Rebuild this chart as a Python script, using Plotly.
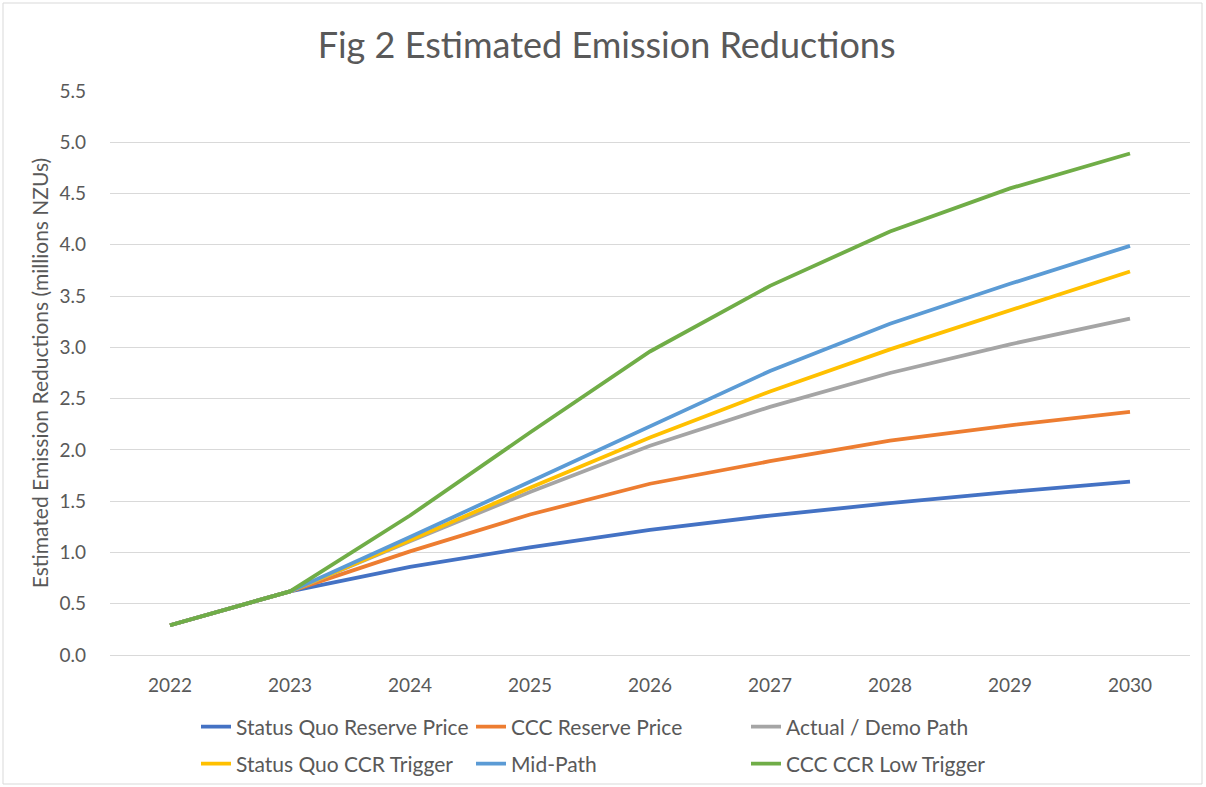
import plotly.graph_objects as go

years = ["2022", "2023", "2024", "2025", "2026", "2027", "2028", "2029", "2030"]

status_quo_reserve = [0.29, 0.62, 0.86, 1.05, 1.22, 1.36, 1.48, 1.59, 1.69]
ccc_reserve = [0.29, 0.62, 1.01, 1.37, 1.67, 1.89, 2.09, 2.24, 2.37]
actual_demo = [0.29, 0.62, 1.11, 1.59, 2.04, 2.42, 2.75, 3.03, 3.28]
status_quo_ccr = [0.29, 0.62, 1.12, 1.63, 2.12, 2.57, 2.98, 3.36, 3.74]
mid_path = [0.29, 0.62, 1.15, 1.69, 2.24, 2.77, 3.23, 3.62, 3.99]
ccc_ccr_low = [0.29, 0.62, 1.36, 2.17, 2.96, 3.60, 4.13, 4.55, 4.89]

series_names = ["Status Quo Reserve Price", "CCC Reserve Price", "Actual / Demo Path",
                "Status Quo CCR Trigger", "Mid-Path", "CCC CCR Low Trigger"]
series_values = [status_quo_reserve, ccc_reserve, actual_demo,
                 status_quo_ccr, mid_path, ccc_ccr_low]
series_colors = ["#4472C4", "#ED7D31", "#A5A5A5", "#FFC000", "#5B9BD5", "#70AD47"]

W, H = 1206, 787
ml, mr, mt, mb = 110, 16, 91, 132
pw, ph = W - ml - mr, H - mt - mb

# legend grid (pixel positions of each legend entry: line start, row centre)
legend_cols = [201, 476, 751]
legend_rows = [727, 764]

fig = go.Figure()
layout_legends = {}
for i, (name, vals, color) in enumerate(zip(series_names, series_values, series_colors)):
    key = "legend" if i == 0 else f"legend{i + 1}"
    fig.add_trace(go.Scatter(
        x=years, y=vals, mode="lines", name=name,
        line=dict(color=color, width=3.8),
        legend=key,
    ))
    col, row = i % 3, i // 3
    layout_legends[key] = dict(
        orientation="h",
        xanchor="left", yanchor="middle",
        x=(legend_cols[col] - 5 - ml) / pw,
        y=-(legend_rows[row] - mt - ph) / ph,
        font=dict(family="Lato", size=21, color="#595959"),
        bgcolor="rgba(0,0,0,0)",
        itemwidth=30,
    )

fig.update_layout(
    width=W, height=H,
    margin=dict(l=ml, r=mr, t=mt, b=mb, autoexpand=False),
    paper_bgcolor="white",
    plot_bgcolor="white",
    title=dict(
        text="Fig 2 Estimated Emission Reductions",
        x=0.503, xanchor="center", y=1 - 45 / H, yanchor="middle",
        font=dict(family="Lato", size=36, color="#595959"),
    ),
    font=dict(family="Lato", color="#595959"),
    xaxis=dict(
        type="category",
        range=[-0.5, 8.5],
        automargin=False,
        showgrid=False,
        showline=True, linecolor="#D9D9D9", linewidth=1,
        ticks="",
        tickfont=dict(family="Lato", size=19, color="#595959"),
        ticklabelstandoff=13,
    ),
    yaxis=dict(
        range=[0, 5.5],
        dtick=0.5,
        tickformat=".1f",
        automargin=False,
        showgrid=True, gridcolor="#D9D9D9", gridwidth=1,
        zeroline=False,
        showline=False,
        ticks="",
        tickfont=dict(family="Lato", size=19, color="#595959"),
        ticklabelstandoff=23,
        title=dict(text="Estimated Emission Reductions (millions NZUs)",
                   font=dict(family="Lato", size=21, color="#595959"),
                   standoff=5),
    ),
    showlegend=True,
    **layout_legends,
)

# chart border
fig.add_shape(type="rect", xref="paper", yref="paper",
              x0=(3 - ml) / pw, x1=(W - 4 - ml) / pw,
              y0=-(H - 3 - mt - ph) / ph, y1=1 + (mt - 3) / ph,
              line=dict(color="#D9D9D9", width=1), layer="below")

fig.write_html("out.html",
               config={"displayModeBar": False},
               post_script="document.body.style.margin='0';document.body.style.overflow='hidden';")
